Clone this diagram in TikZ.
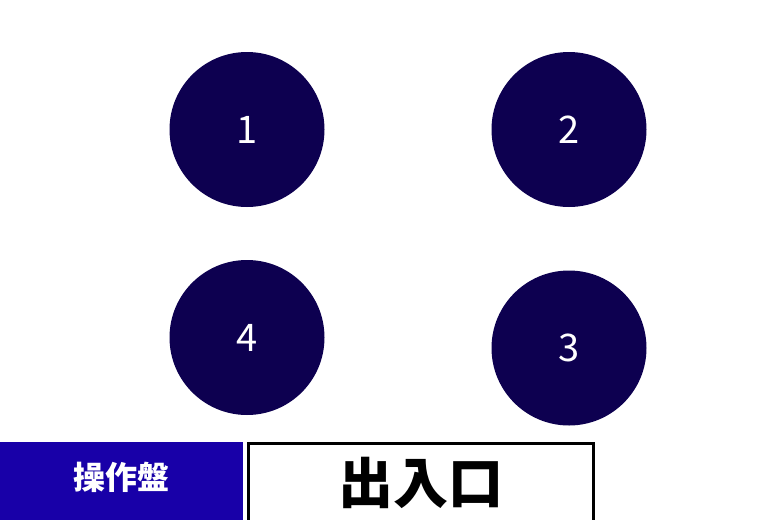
\documentclass[tikz,border=0pt]{standalone}
\usepackage{fontspec}
\newfontfamily\cjk{Noto Sans CJK JP}
\usetikzlibrary{positioning}

\definecolor{seatnavy}{HTML}{0D0050}
\definecolor{panelblue}{HTML}{1800A8}

\tikzset{
  seat/.style={circle, fill=seatnavy, minimum size=155pt, inner sep=0pt,
    text=white, font=\cjk\fontsize{38}{38}\selectfont},
  panel/.style={text=white, font=\cjk\bfseries\fontsize{32}{32}\selectfont},
  doorway/.style={font=\cjk\bfseries\fontsize{55}{55}\selectfont}
}

\begin{document}
\begin{tikzpicture}[x=1pt, y=-1pt]

\useasboundingbox[fill=white] (0,0) rectangle (780,520);

% seats
\node[seat] (s1) at (247,129.5) {1};
\node[seat] (s2) at (569,129.5) {2};
\node[seat] (s4) at (247,337.5) {4};
\node[seat] (s3) at (569,348) {3};

% bottom bar
\fill[panelblue] (0,442) rectangle (243,530);
\node[panel] (ctrl) at (121.5,477) {操作盤};

\draw[line width=3pt, fill=white] (248,443.5) rectangle (593.5,530);
\node[doorway] (door) at (420.5,483) {出入口};

\end{tikzpicture}
\end{document}
